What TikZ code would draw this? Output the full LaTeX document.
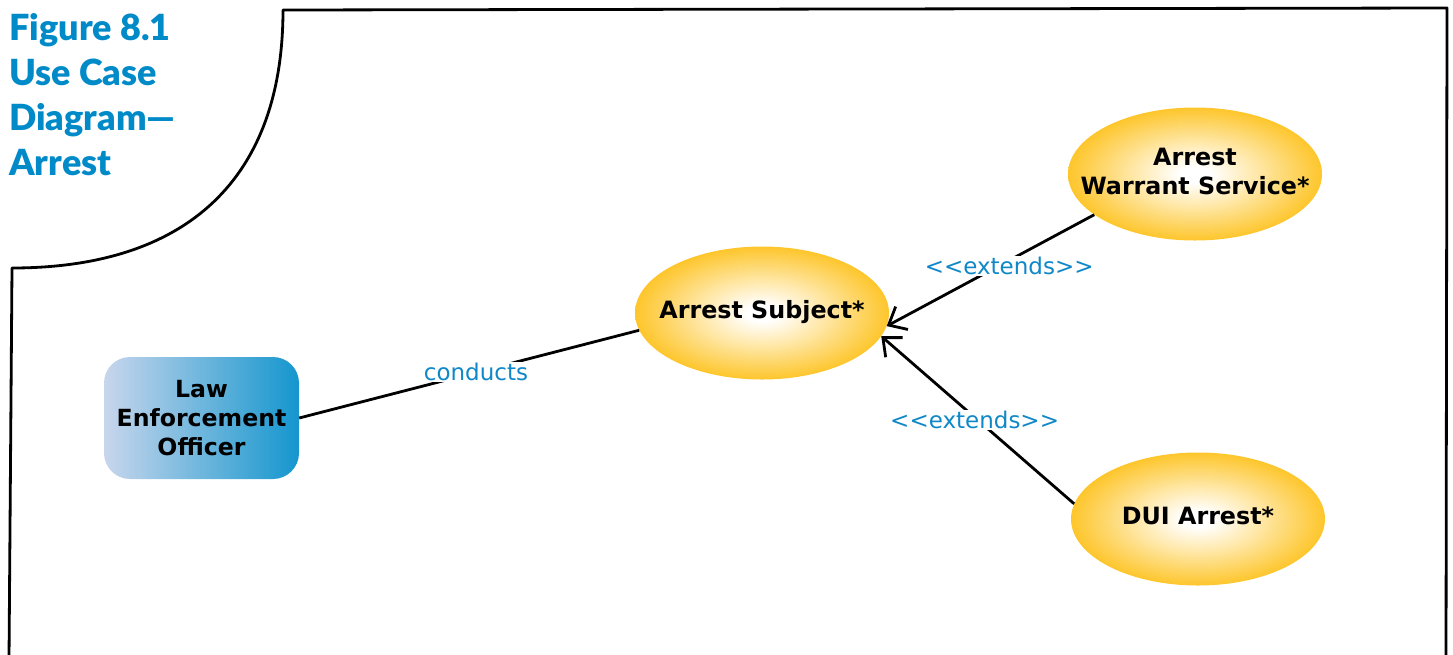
\documentclass[tikz,border=0pt]{standalone}
\usepackage{fontspec}
\setmainfont{DejaVu Sans}
\newfontfamily\titlefont{Lato Black}
\usetikzlibrary{shapes.geometric,arrows.meta}
\definecolor{tblue}{RGB}{0,138,200}
\definecolor{lblue}{RGB}{16,136,200}
\definecolor{ucyel}{RGB}{254,198,44}
\definecolor{actl}{RGB}{200,214,236}
\definecolor{actr}{RGB}{20,150,206}
\pgfdeclareradialshading{ucshade}{\pgfpoint{0bp}{0bp}}{color(0bp)=(white); color(3bp)=(white); color(13bp)=(white!55!ucyel); color(25bp)=(ucyel); color(50bp)=(ucyel)}
\newcommand\uctext[1]{\makebox[0pt]{\raisebox{-3pt}{\begin{tabular}{@{}c@{}}#1\end{tabular}}}}
\begin{document}
\begin{tikzpicture}[x=1pt,y=-1pt,
  usecase/.style={ellipse, shade, shading=ucshade, minimum width=254pt, minimum height=133pt, inner sep=0pt, font=\fontsize{23.8}{29}\selectfont\bfseries},
  actorbox/.style={rectangle, rounded corners=26pt, left color=actl, right color=actr, minimum width=195pt, minimum height=122pt, inner sep=0pt, align=center, font=\fontsize{23.6}{29}\selectfont\bfseries},
  conn/.style={line width=2.8pt, black},
  ext/.style={conn, -{Straight Barb[length=15pt,width=26pt,line width=2.8pt]}},
  lbl/.style={fill=white, inner sep=1pt, text=lblue, font=\fontsize{23}{27}\selectfont},
  frame/.style={line width=2.8pt, black, line join=round}]
\useasboundingbox (0,0) rectangle (1453,654);
% frame
\coordinate (f1) at (283,10);
\coordinate (f2) at (1447,8);
\coordinate (f3) at (1446,660);
\coordinate (f4) at (12,268);
\coordinate (f5) at (9,660);
\draw[frame] (f3) -- (f2) -- (f1) .. controls (283,178) and (188,268) .. (f4) -- (f5);
% title
\node[anchor=north west, inner sep=0pt, align=left, text=tblue, font=\titlefont\fontsize{36}{45}\selectfont] (title) at (9,13.5) {Figure 8.1\\Use Case\\Diagram—\\Arrest};
% nodes
\node[actorbox] (actor) at (201.5,418) {Law\\Enforcement\\Officer};
\node[usecase] (subj) at (762,313) {\uctext{Arrest Subject*}};
\node[usecase] (warr) at (1195,174) {\uctext{Arrest\\Warrant Service*}};
\node[usecase] (dui) at (1198,519) {\uctext{DUI Arrest*}};
% connectors
\draw[conn] (actor.east) -- node[lbl, pos=0.52] (lc) {conducts} (subj.188);
\draw[ext] (warr.202) -- node[lbl, pos=0.41, yshift=-6pt] (le1) {<{}<{}extends>{}>} (subj.-6);
\draw[ext] (dui.173) -- node[lbl, pos=0.516, yshift=-3pt] (le2) {<{}<{}extends>{}>} (subj.-11);
\end{tikzpicture}
\end{document}
